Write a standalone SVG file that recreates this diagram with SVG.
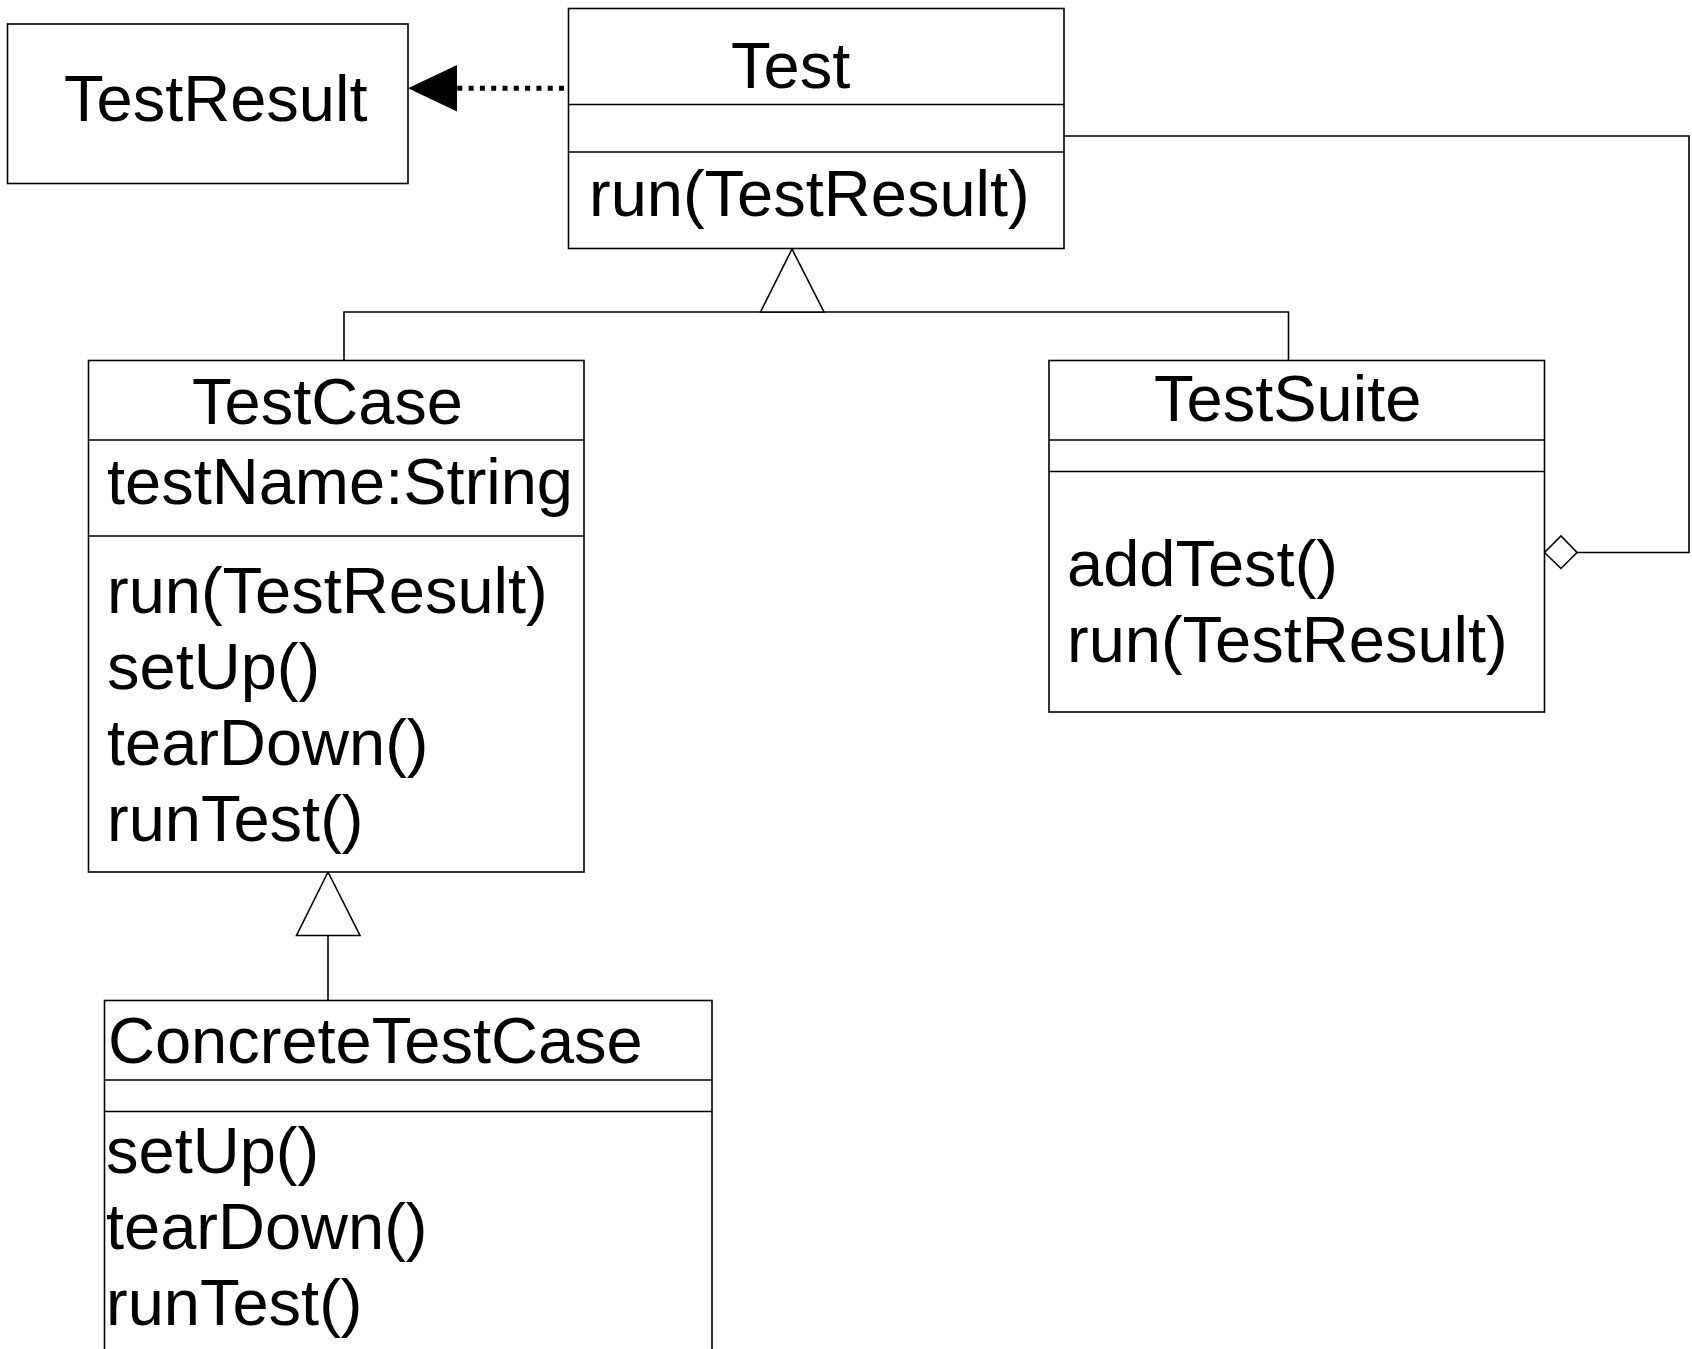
<svg xmlns="http://www.w3.org/2000/svg" width="1692" height="1349" viewBox="0 0 1692 1349">
  <style>
    .box { fill: #ffffff; stroke: #000000; stroke-width: 1.6; }
    .sep { stroke: #000000; stroke-width: 1.6; fill: none; }
    .edge { stroke: #000000; stroke-width: 1.6; fill: none; }
    .dep { stroke: #000000; stroke-width: 5; stroke-dasharray: 5 6.3; fill: none; }
    .head-open { fill: #ffffff; stroke: #000000; stroke-width: 1.6; }
    .head-fill { fill: #000000; stroke: none; }
    text { font-family: "Liberation Sans", Arial, sans-serif; font-size: 65px; fill: #000000; }
  </style>

  <rect width="1692" height="1349" fill="#ffffff"/>

  <!-- connectors -->
  <g id="connectors">
    <!-- Test uses TestResult (dependency) -->
    <line class="dep" x1="457.3" y1="88.3" x2="567" y2="88.3"/>
    <polygon class="head-fill" points="408,88.3 457,65 457,111.5"/>

    <!-- TestCase and TestSuite generalize Test -->
    <polyline class="edge" points="344,360 344,312 1288.5,312 1288.5,360"/>
    <polygon class="head-open" points="792,249 760.5,312 824,312"/>

    <!-- ConcreteTestCase generalizes TestCase -->
    <line class="edge" x1="328" y1="935.5" x2="328" y2="1000"/>
    <polygon class="head-open" points="328,872 296.5,935.5 360,935.5"/>

    <!-- TestSuite aggregates Test -->
    <polyline class="edge" points="1064,136 1689,136 1689,552.5 1577,552.5"/>
    <polygon class="head-open" points="1544.5,552.5 1561,536 1577,552.5 1561,568.5"/>
  </g>

  <!-- TestResult -->
  <g id="node-testresult">
    <rect class="box" x="7.5" y="24" width="400.5" height="159.5"/>
    <text x="64" y="121">TestResult</text>
  </g>

  <!-- Test -->
  <g id="node-test">
    <rect class="box" x="568.5" y="8.5" width="495.5" height="240"/>
    <line class="sep" x1="568.5" y1="104.5" x2="1064" y2="104.5"/>
    <line class="sep" x1="568.5" y1="152" x2="1064" y2="152"/>
    <text x="731" y="88">Test</text>
    <text x="589" y="216">run(TestResult)</text>
  </g>

  <!-- TestCase -->
  <g id="node-testcase">
    <rect class="box" x="88.5" y="360.5" width="495.5" height="511.5"/>
    <line class="sep" x1="88.5" y1="440" x2="584" y2="440"/>
    <line class="sep" x1="88.5" y1="536" x2="584" y2="536"/>
    <text x="192" y="424">TestCase</text>
    <text x="107" y="504">testName:String</text>
    <text x="107" y="613">run(TestResult)</text>
    <text x="107" y="689">setUp()</text>
    <text x="107" y="765">tearDown()</text>
    <text x="107" y="841">runTest()</text>
  </g>

  <!-- TestSuite -->
  <g id="node-testsuite">
    <rect class="box" x="1049" y="360.5" width="495.5" height="351.5"/>
    <line class="sep" x1="1049" y1="440" x2="1544.5" y2="440"/>
    <line class="sep" x1="1049" y1="471.5" x2="1544.5" y2="471.5"/>
    <text x="1154" y="421">TestSuite</text>
    <text x="1067" y="586">addTest()</text>
    <text x="1067" y="662">run(TestResult)</text>
  </g>

  <!-- ConcreteTestCase (runs past the lower edge) -->
  <g id="node-concretetestcase">
    <rect class="box" x="104.5" y="1000.5" width="607.5" height="400"/>
    <line class="sep" x1="104.5" y1="1080" x2="712" y2="1080"/>
    <line class="sep" x1="104.5" y1="1111.5" x2="712" y2="1111.5"/>
    <text x="108" y="1063">ConcreteTestCase</text>
    <text x="106" y="1173">setUp()</text>
    <text x="106" y="1249">tearDown()</text>
    <text x="106" y="1325">runTest()</text>
  </g>
</svg>
